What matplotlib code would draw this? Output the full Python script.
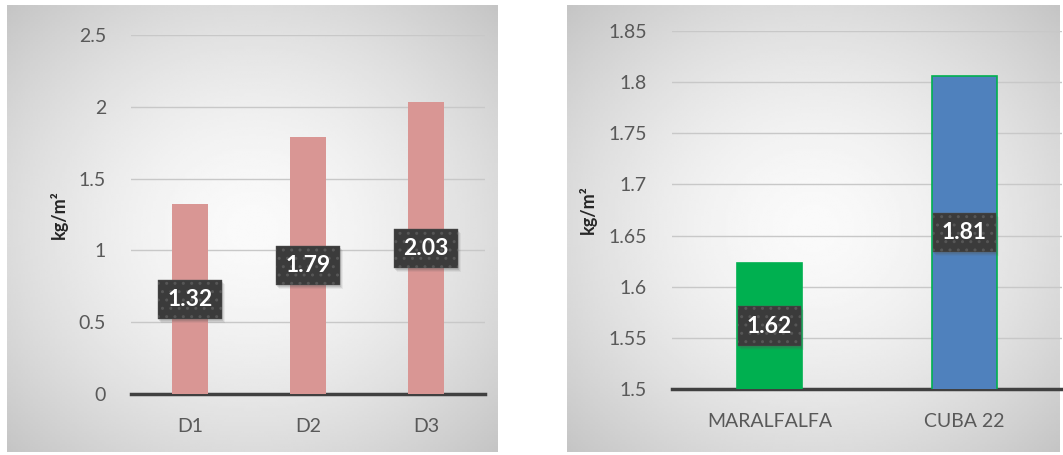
import numpy as np
import matplotlib
matplotlib.use("Agg")
import matplotlib.pyplot as plt
from matplotlib.patches import Rectangle

plt.rcParams['font.family'] = ['Lato', 'DejaVu Sans']

dosis = ["D1", "D2", "D3"]
dosis_vals = [1.32, 1.79, 2.03]
variedades = ["MARALFALFA", "CUBA 22"]
variedades_vals = [1.623, 1.806]
variedades_labels = ["1.62", "1.81"]

W, H = 1063, 455
fig = plt.figure(figsize=(W / 100, H / 100), dpi=100)
fig.patch.set_facecolor("white")


def fr(x0, y0, x1, y1):
    # pixel box (top-left origin) -> figure fraction rect
    return [x0 / W, 1 - y1 / H, (x1 - x0) / W, (y1 - y0) / H]


def panel(x0, y0, x1, y1):
    bg = fig.add_axes(fr(x0, y0, x1, y1), zorder=0)
    yy, xx = np.mgrid[-1:1:200j, -1:1:200j]
    r = np.clip(np.sqrt(xx**2 + yy**2) / 1.42, 0, 1)
    img = 0.98 - 0.21 * r**1.6
    bg.imshow(img, cmap="gray", vmin=0, vmax=1, aspect="auto",
              extent=[0, 1, 0, 1], interpolation="bilinear")
    bg.set_axis_off()


boxes = []


def label_box(ax, x, y, txt):
    t = ax.text(x, y, txt, ha="center", va="center", fontsize=16.5,
                color="white", fontweight="bold", zorder=5,
                bbox=dict(boxstyle="square,pad=0.4", fc="#3b3b3b",
                          ec="#565656", lw=0.3, hatch=".."))
    boxes.append((ax, t))


def style(ax, ylab):
    ax.set_facecolor("none")
    for s in ["top", "right", "left"]:
        ax.spines[s].set_visible(False)
    ax.spines["bottom"].set_color("#404040")
    ax.spines["bottom"].set_linewidth(2.5)
    ax.tick_params(axis="both", length=0, colors="#595959", labelsize=14)
    ax.tick_params(axis="y", pad=18)
    ax.tick_params(axis="x", pad=17)
    ax.yaxis.grid(True, color="#c8c8c8", lw=1)
    ax.set_axisbelow(True)
    ax.set_ylabel(ylab, fontsize=13, fontweight="bold", color="#262626",
                  labelpad=8)


# left panel
panel(7, 5, 498, 452)
ax1 = fig.add_axes(fr(131, 35, 485, 394), zorder=2)
x1 = np.arange(len(dosis))
ax1.bar(x1, dosis_vals, width=0.31, color="#D99694", zorder=3)
ax1.set_xlim(-0.5, 2.5)
ax1.set_ylim(0, 2.5)
ax1.set_yticks([0, 0.5, 1, 1.5, 2, 2.5])
ax1.set_yticklabels(["0", "0.5", "1", "1.5", "2", "2.5"])
ax1.set_xticks(x1)
ax1.set_xticklabels(dosis)
style(ax1, "kg/m²")
for xi, v in zip(x1, dosis_vals):
    label_box(ax1, xi, v / 2, f"{v:.2f}")

# right panel
panel(567, 5, 1060, 452)
ax2 = fig.add_axes(fr(672, 31, 1062, 389), zorder=2)
x2 = np.arange(len(variedades))
ax2.bar(x2, variedades_vals, width=0.33,
        color=["#00B050", "#4F81BD"], edgecolor="#00B050", lw=1.2, zorder=3)
ax2.set_xlim(-0.5, 1.5)
ax2.set_ylim(1.5, 1.85)
ax2.set_yticks([1.5, 1.55, 1.6, 1.65, 1.7, 1.75, 1.8, 1.85])
ax2.set_yticklabels(["1.5", "1.55", "1.6", "1.65", "1.7", "1.75", "1.8", "1.85"])
ax2.set_xticks(x2)
ax2.set_xticklabels(variedades)
style(ax2, "kg/m²")
for xi, v, lab in zip(x2, variedades_vals, variedades_labels):
    label_box(ax2, xi, (1.5 + v) / 2, lab)

# soft shadows under the label boxes
fig.canvas.draw()
for ax, t in boxes:
    bb = t.get_bbox_patch().get_window_extent()
    for k, a in [(4, 0.08), (3, 0.12), (2, 0.16)]:
        ax.add_patch(Rectangle((bb.x0 + k - 1, bb.y0 - k), bb.width, bb.height,
                               transform=None, fc="#555555", ec="none",
                               alpha=a, zorder=4))

fig.savefig("out.png", dpi=100)
